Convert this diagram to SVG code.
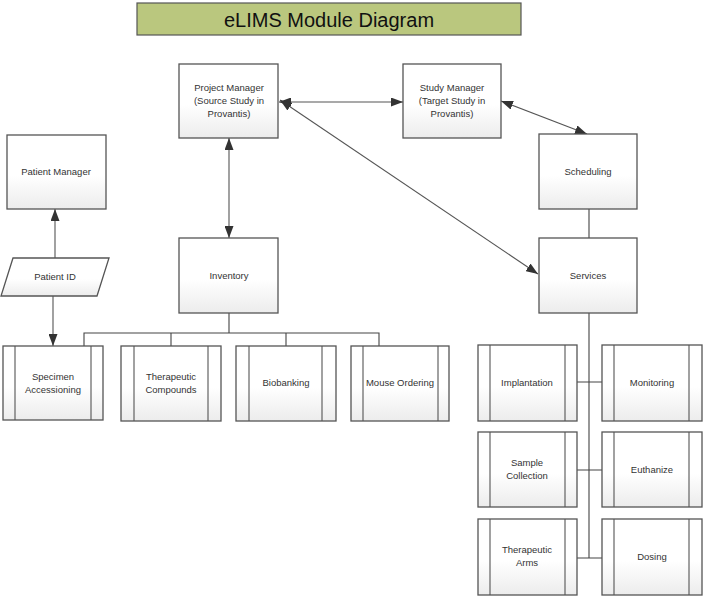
<svg xmlns="http://www.w3.org/2000/svg" width="704" height="597" viewBox="0 0 704 597">
<defs>
<linearGradient id="g" x1="0" y1="0" x2="0" y2="1">
<stop offset="0" stop-color="#ffffff"/>
<stop offset="0.55" stop-color="#ffffff"/>
<stop offset="1" stop-color="#ececec"/>
</linearGradient>
<marker id="ah" viewBox="0 0 12 9" refX="12" refY="4.5" markerWidth="12" markerHeight="9" markerUnits="userSpaceOnUse" orient="auto-start-reverse">
<path d="M0,0 L12,4.5 L0,9 Z" fill="#333"/>
</marker>
</defs>
<style>
.box{fill:url(#g);stroke:#555;stroke-width:1.3}
.in{stroke:#555;stroke-width:1.1}
.t{font-family:"Liberation Sans",Arial,sans-serif;font-size:9.5px;fill:#333;text-anchor:middle}
.c{stroke:#444;stroke-width:1.1;fill:none}
.a{stroke:#555;stroke-width:1.1;fill:none;marker-start:url(#ah);marker-end:url(#ah)}
.a1{stroke:#555;stroke-width:1.1;fill:none;marker-end:url(#ah)}
</style>
<rect width="704" height="597" fill="#fff"/>
<g id="title">
<rect x="137" y="3" width="384" height="32" fill="#bac77e" stroke="#555" stroke-width="1.2"/>
<text x="329" y="27" font-family="Liberation Sans,Arial,sans-serif" font-size="20" fill="#111" text-anchor="middle">eLIMS Module Diagram</text>
</g>
<g id="connectors">
<line class="a" x1="279" y1="102" x2="403" y2="102"/>
<line class="a" x1="280" y1="100" x2="538" y2="274"/>
<line class="a" x1="501" y1="101" x2="587" y2="134"/>
<line class="a" x1="229" y1="138" x2="229" y2="238"/>
<line class="a1" x1="55" y1="258" x2="55" y2="209"/>
<line class="a1" x1="53" y1="296" x2="53" y2="346"/>
<path class="c" d="M229,313 V333 M84,346 V333 H379 V346 M171,333 V346 M286,333 V346"/>
<path class="c" d="M589,209 V238 M589,313 V558 M577,382 H602 M577,470 H602 M577,558 H602"/>
</g>
<g id="project-manager">
<rect class="box" x="179" y="64" width="99" height="74"/>
<text class="t" x="229" y="91">Project Manager</text>
<text class="t" x="229" y="104">(Source Study in</text>
<text class="t" x="229" y="117">Provantis)</text>
</g>
<g id="study-manager">
<rect class="box" x="403" y="64" width="98" height="74"/>
<text class="t" x="452" y="91">Study Manager</text>
<text class="t" x="452" y="104">(Target Study in</text>
<text class="t" x="452" y="117">Provantis)</text>
</g>
<g id="patient-manager">
<rect class="box" x="7" y="135" width="99" height="74"/>
<text class="t" x="56" y="175">Patient Manager</text>
</g>
<g id="patient-id">
<polygon class="box" points="13,258 109,258 97,296 1,296"/>
<text class="t" x="55" y="280">Patient ID</text>
</g>
<g id="inventory">
<rect class="box" x="179" y="238" width="99" height="75"/>
<text class="t" x="229" y="279">Inventory</text>
</g>
<g id="scheduling">
<rect class="box" x="539" y="134" width="98" height="75"/>
<text class="t" x="588" y="175">Scheduling</text>
</g>
<g id="services">
<rect class="box" x="539" y="238" width="98" height="75"/>
<text class="t" x="588" y="279">Services</text>
</g>
<g id="specimen-accessioning">
<rect class="box" x="3" y="346" width="100" height="74"/>
<path class="in" d="M15,346 V420 M91,346 V420"/>
<text class="t" x="53" y="380">Specimen</text>
<text class="t" x="53" y="393">Accessioning</text>
</g>
<g id="therapeutic-compounds">
<rect class="box" x="121" y="346" width="100" height="75"/>
<path class="in" d="M134,346 V421 M208,346 V421"/>
<text class="t" x="171" y="380">Therapeutic</text>
<text class="t" x="171" y="393">Compounds</text>
</g>
<g id="biobanking">
<rect class="box" x="236" y="346" width="100" height="75"/>
<path class="in" d="M249,346 V421 M322,346 V421"/>
<text class="t" x="286" y="386">Biobanking</text>
</g>
<g id="mouse-ordering">
<rect class="box" x="351" y="346" width="98" height="75"/>
<path class="in" d="M363,346 V421 M438,346 V421"/>
<text class="t" x="400" y="386">Mouse Ordering</text>
</g>
<g id="implantation">
<rect class="box" x="478" y="345" width="99" height="76"/>
<path class="in" d="M490,345 V421 M565,345 V421"/>
<text class="t" x="527" y="386">Implantation</text>
</g>
<g id="monitoring">
<rect class="box" x="602" y="345" width="100" height="76"/>
<path class="in" d="M614,345 V421 M689,345 V421"/>
<text class="t" x="652" y="386">Monitoring</text>
</g>
<g id="sample-collection">
<rect class="box" x="478" y="432" width="99" height="75"/>
<path class="in" d="M490,432 V507 M565,432 V507"/>
<text class="t" x="527" y="466">Sample</text>
<text class="t" x="527" y="479">Collection</text>
</g>
<g id="euthanize">
<rect class="box" x="602" y="432" width="100" height="75"/>
<path class="in" d="M614,432 V507 M689,432 V507"/>
<text class="t" x="652" y="473">Euthanize</text>
</g>
<g id="therapeutic-arms">
<rect class="box" x="478" y="519" width="99" height="76"/>
<path class="in" d="M490,519 V595 M565,519 V595"/>
<text class="t" x="527" y="553">Therapeutic</text>
<text class="t" x="527" y="566">Arms</text>
</g>
<g id="dosing">
<rect class="box" x="602" y="519" width="100" height="76"/>
<path class="in" d="M614,519 V595 M689,519 V595"/>
<text class="t" x="652" y="560">Dosing</text>
</g>
</svg>
